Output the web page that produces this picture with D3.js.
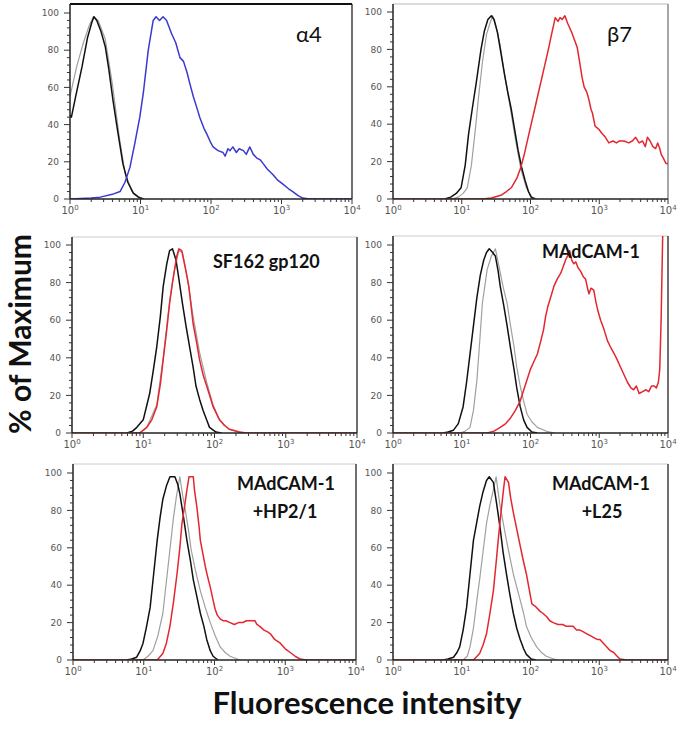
<!DOCTYPE html>
<html>
<head>
<meta charset="utf-8">
<script src="https://cdn.jsdelivr.net/npm/d3@7"></script>
<style>
  body { margin: 0; background: #fff; }
  svg { display: block; }
  .tick-label { font-family: "DejaVu Sans", sans-serif; font-size: 9px; fill: #555; }
  .title { font-family: Lato, "Open Sans", sans-serif; font-weight: bold; fill: #111; }
</style>
</head>
<body>
<div id="chart"></div>
<script>
// histogram traces: [log10 fluorescence, % of max]
var a4Grey = [[0, 55], [0.04, 62], [0.1, 72], [0.19, 84], [0.27, 93], [0.33, 98], [0.4, 96], [0.5, 86], [0.6, 62], [0.7, 33], [0.78, 14], [0.88, 4], [0.98, 1], [1.05, 0]];
var a4Black = [[0, 45], [0.02, 44], [0.08, 55], [0.17, 71], [0.25, 87], [0.31, 95], [0.34, 98], [0.38, 96], [0.44, 90], [0.5, 82], [0.55, 70], [0.61, 53], [0.67, 38], [0.75, 19], [0.82, 9], [0.9, 3], [0.97, 1], [1.04, 0]];
var a4Blue = [[0, 0], [0.3, 0.5], [0.43, 1], [0.6, 2.5], [0.71, 4], [0.78, 9], [0.85, 17], [0.92, 30], [0.99, 44], [1.04, 57], [1.11, 80], [1.18, 96], [1.22, 98], [1.27, 96], [1.32, 98], [1.37, 96], [1.44, 89], [1.5, 84], [1.56, 76], [1.61, 74], [1.66, 68], [1.7, 62], [1.75, 55], [1.8, 49], [1.84, 44], [1.9, 38], [1.94, 35], [2.0, 30], [2.03, 28], [2.1, 26], [2.17, 25], [2.2, 23], [2.24, 27], [2.27, 26], [2.31, 28], [2.36, 25], [2.4, 27], [2.46, 26], [2.5, 24], [2.55, 28], [2.6, 24], [2.65, 22], [2.7, 21], [2.74, 19], [2.8, 16], [2.88, 13], [2.95, 10], [3.02, 8], [3.1, 5.5], [3.16, 4], [3.23, 2], [3.3, 0.5], [3.4, 0], [4, 0]];

var b7Grey = [[0.85, 0], [0.95, 1], [1.02, 3], [1.08, 6], [1.14, 18], [1.2, 38], [1.24, 53], [1.3, 73], [1.36, 88], [1.41, 94], [1.45, 98], [1.5, 92], [1.56, 82], [1.62, 67], [1.7, 50], [1.78, 32], [1.86, 16], [1.94, 6], [2.02, 1], [2.1, 0]];
var b7Black = [[0.75, 0], [0.84, 1], [0.92, 3], [0.99, 6], [1.05, 18], [1.1, 35], [1.16, 50], [1.21, 62], [1.28, 80], [1.33, 90], [1.38, 96], [1.43, 98], [1.47, 96], [1.52, 89], [1.57, 78], [1.62, 67], [1.67, 57], [1.72, 48], [1.77, 37], [1.82, 26], [1.87, 17], [1.92, 10], [1.97, 4], [2.01, 1], [2.06, 0]];
var b7Red = [[0, 0], [1.3, 0], [1.43, 0.5], [1.57, 2], [1.65, 4], [1.72, 6], [1.8, 11], [1.86, 17], [1.91, 24], [1.96, 32], [2.01, 40], [2.06, 48], [2.11, 56], [2.16, 64], [2.21, 72], [2.26, 80], [2.3, 87], [2.33, 92], [2.36, 97], [2.4, 95], [2.43, 97], [2.46, 96], [2.5, 98], [2.54, 94], [2.6, 89], [2.64, 85], [2.68, 81], [2.72, 72], [2.75, 65], [2.78, 60], [2.82, 57], [2.85, 53], [2.88, 48], [2.9, 46], [2.94, 39], [3.0, 37], [3.04, 35], [3.09, 33], [3.14, 30], [3.2, 31], [3.25, 30], [3.29, 31], [3.36, 31], [3.43, 30], [3.48, 31], [3.53, 33], [3.58, 30], [3.63, 31], [3.67, 28], [3.7, 33], [3.74, 31], [3.78, 28], [3.82, 27], [3.85, 30], [3.88, 27], [3.9, 24], [3.93, 22], [3.97, 19], [4, 19]];

var sfGrey = [[0.95, 0], [1.05, 3], [1.19, 15], [1.28, 40], [1.37, 70], [1.44, 87], [1.5, 97], [1.55, 96], [1.62, 82], [1.7, 62], [1.79, 43], [1.89, 27], [1.98, 15], [2.07, 7], [2.2, 2], [2.35, 0.5], [2.45, 0]];
var sfBlack = [[0.77, 0], [0.85, 1], [0.91, 3], [1.0, 7], [1.09, 21], [1.14, 33], [1.19, 46], [1.24, 62], [1.28, 78], [1.33, 90], [1.37, 97], [1.41, 98], [1.46, 92], [1.5, 82], [1.55, 69], [1.6, 57], [1.65, 46], [1.7, 35], [1.74, 25], [1.79, 18], [1.84, 12], [1.9, 6], [1.93, 3], [2.02, 0.5], [2.1, 0]];
var sfRed = [[0, 0], [0.95, 0], [1.05, 3], [1.12, 7], [1.19, 14], [1.24, 26], [1.28, 39], [1.33, 55], [1.37, 69], [1.41, 80], [1.44, 87], [1.47, 94], [1.5, 98], [1.54, 97], [1.59, 88], [1.64, 78], [1.7, 58], [1.75, 48], [1.79, 39], [1.84, 31], [1.89, 25], [1.94, 19], [1.98, 14], [2.07, 7], [2.14, 4], [2.21, 2], [2.35, 0.5], [2.45, 0], [4, 0]];

var madGrey = [[0.98, 0], [1.05, 1], [1.12, 3], [1.17, 12], [1.22, 28], [1.26, 48], [1.3, 69], [1.37, 87], [1.43, 94], [1.49, 98], [1.55, 87], [1.6, 78], [1.66, 69], [1.71, 57], [1.76, 46], [1.8, 35], [1.85, 25], [1.9, 17], [1.95, 10], [2.02, 6], [2.1, 3], [2.25, 0.7], [2.35, 0]];
var madBlack = [[0.73, 0], [0.8, 0.5], [0.88, 1.5], [0.95, 5], [1.02, 14], [1.07, 27], [1.12, 42], [1.17, 57], [1.22, 72], [1.27, 84], [1.32, 92], [1.36, 96], [1.4, 98], [1.45, 96], [1.49, 94], [1.53, 86], [1.56, 78], [1.61, 68], [1.66, 57], [1.71, 45], [1.76, 34], [1.8, 24], [1.85, 14], [1.9, 7], [1.95, 3], [2.02, 0.5], [2.1, 0]];
var madRed = [[0, 0], [1.37, 0], [1.47, 1], [1.56, 3], [1.64, 5], [1.71, 8], [1.78, 12], [1.85, 17], [1.92, 25], [2.0, 34], [2.05, 38], [2.1, 42], [2.15, 49], [2.19, 55], [2.22, 62], [2.25, 67], [2.3, 73], [2.34, 78], [2.39, 82], [2.44, 85], [2.48, 89], [2.51, 92], [2.55, 95], [2.57, 97], [2.6, 92], [2.63, 90], [2.66, 91], [2.69, 88], [2.73, 86], [2.77, 83], [2.8, 82], [2.83, 77], [2.85, 74], [2.88, 77], [2.92, 76], [2.95, 70], [2.98, 65], [3.02, 60], [3.07, 55], [3.12, 49], [3.16, 46], [3.22, 42], [3.26, 39], [3.31, 35], [3.36, 31], [3.41, 27], [3.46, 24], [3.5, 23], [3.54, 25], [3.58, 21], [3.63, 22], [3.68, 23], [3.72, 22], [3.76, 25], [3.8, 25], [3.83, 24], [3.86, 27], [3.88, 34], [3.9, 60], [3.92, 100], [3.93, 115]];

var hpGrey = [[0.99, 0], [1.06, 2], [1.13, 5], [1.2, 13], [1.27, 25], [1.32, 42], [1.37, 59], [1.42, 76], [1.46, 87], [1.51, 98], [1.55, 88], [1.58, 82], [1.63, 70], [1.67, 59], [1.73, 48], [1.8, 37], [1.87, 28], [1.94, 20], [2.01, 13], [2.08, 7], [2.15, 4], [2.22, 2], [2.36, 0]];
var hpBlack = [[0.76, 0], [0.83, 0.5], [0.9, 1.5], [0.95, 5], [0.99, 9], [1.04, 18], [1.09, 28], [1.14, 46], [1.19, 64], [1.23, 76], [1.27, 86], [1.32, 93], [1.37, 98], [1.44, 98], [1.48, 94], [1.51, 89], [1.56, 77], [1.61, 64], [1.66, 53], [1.7, 43], [1.75, 34], [1.8, 25], [1.85, 18], [1.89, 11], [1.94, 5], [1.98, 2], [2.05, 0]];
var hpRed = [[0, 0], [1.19, 0], [1.27, 3.5], [1.32, 9], [1.37, 18], [1.42, 31], [1.47, 46], [1.51, 60], [1.54, 73], [1.58, 83], [1.61, 91], [1.64, 98], [1.7, 98], [1.72, 90], [1.75, 82], [1.78, 72], [1.8, 64], [1.84, 56], [1.87, 50], [1.9, 45], [1.94, 39], [1.98, 32], [2.01, 27], [2.04, 24], [2.08, 22], [2.12, 21], [2.16, 21], [2.22, 20], [2.28, 19], [2.34, 20], [2.4, 20], [2.45, 21], [2.5, 21], [2.54, 21], [2.57, 21], [2.6, 19], [2.64, 18], [2.7, 16], [2.75, 15], [2.79, 14], [2.85, 11], [2.93, 9], [3.0, 6], [3.07, 4], [3.14, 2], [3.21, 0.5], [3.3, 0], [4, 0]];

var l25Grey = [[1.02, 0], [1.08, 2], [1.12, 7], [1.17, 17], [1.22, 32], [1.26, 43], [1.31, 58], [1.36, 73], [1.41, 83], [1.46, 91], [1.5, 98], [1.55, 84], [1.6, 74], [1.65, 64], [1.7, 55], [1.75, 46], [1.8, 39], [1.85, 32], [1.9, 25], [1.94, 18], [2.01, 12], [2.09, 7], [2.16, 4], [2.23, 2], [2.38, 0]];
var l25Black = [[0.73, 0], [0.8, 0.5], [0.88, 1.5], [0.93, 4], [0.97, 7], [1.02, 16], [1.07, 28], [1.12, 46], [1.17, 64], [1.22, 74], [1.26, 82], [1.31, 90], [1.36, 96], [1.4, 98], [1.46, 95], [1.51, 83], [1.56, 70], [1.6, 58], [1.65, 46], [1.7, 35], [1.75, 25], [1.8, 17], [1.85, 11], [1.9, 6], [1.94, 3], [2.01, 0.5], [2.08, 0]];
var l25Red = [[0, 0], [1.17, 0], [1.26, 3.5], [1.31, 8], [1.36, 14], [1.41, 25], [1.46, 37], [1.5, 52], [1.53, 64], [1.56, 75], [1.58, 82], [1.61, 92], [1.63, 98], [1.68, 95], [1.71, 87], [1.75, 79], [1.8, 70], [1.85, 61], [1.89, 54], [1.94, 46], [1.98, 38], [2.02, 30], [2.06, 29], [2.09, 28], [2.14, 26], [2.18, 25], [2.24, 23], [2.28, 21], [2.33, 20], [2.4, 19], [2.47, 19], [2.52, 18], [2.57, 18], [2.62, 18], [2.67, 16], [2.72, 16], [2.77, 15], [2.82, 14], [2.87, 13], [2.92, 12], [2.97, 11], [3.01, 11], [3.06, 9], [3.11, 7], [3.16, 5], [3.21, 4], [3.26, 2], [3.3, 0.5], [3.4, 0], [4, 0]];

var yTicks = [0, 20, 40, 60, 80, 100];
var xDecades = [0, 1, 2, 3, 4];

var grey = "#a0a0a0", black = "#111", red = "#e3262f", blue = "#3a3ad0";

var panels = [
    {box: [70, 352, 4, 13, 199], frame: "#111", frameW: 2,
     curves: [[a4Grey, grey], [a4Black, black], [a4Blue, blue]]},
    {box: [393, 668, 4, 12, 199], frame: "#bbb", frameW: 1,
     curves: [[b7Grey, grey], [b7Black, black], [b7Red, red]]},
    {box: [72, 357, 237, 245, 433], frame: "#ccc", frameW: 1,
     curves: [[sfGrey, grey], [sfBlack, black], [sfRed, red]]},
    {box: [393, 668, 236, 245, 433], frame: "#ccc", frameW: 1,
     curves: [[madGrey, grey], [madBlack, black], [madRed, red]]},
    {box: [73, 356, 464, 473, 660], frame: "#ccc", frameW: 1,
     curves: [[hpGrey, grey], [hpBlack, black], [hpRed, red]]},
    {box: [393, 668, 464, 473, 660], frame: "#ccc", frameW: 1,
     curves: [[l25Grey, grey], [l25Black, black], [l25Red, red]]}
];

var svg = d3.select("#chart").append("svg")
    .attr("width", 680)
    .attr("height", 729);

panels.forEach(function(p, i) {
    var left = p.box[0], right = p.box[1], top = p.box[2], y100 = p.box[3], y0 = p.box[4];
    var x = d3.scaleLog().domain([1, 1e4]).range([left, right]);
    var y = d3.scaleLinear().domain([0, 100]).range([y0, y100]);

    var g = svg.append("g");

    svg.append("clipPath").attr("id", "clip" + i)
        .append("rect")
        .attr("x", left).attr("y", top)
        .attr("width", right - left).attr("height", y0 - top);

    // frame: top and right
    g.append("line").attr("x1", left).attr("x2", right).attr("y1", top).attr("y2", top)
        .attr("stroke", p.frame).attr("stroke-width", p.frameW);
    g.append("line").attr("x1", right).attr("x2", right).attr("y1", top).attr("y2", y0)
        .attr("stroke", i == 1 ? "#777" : "#222").attr("stroke-width", 1.3);

    var line = d3.line()
        .x(d => x(Math.pow(10, d[0])))
        .y(d => y(d[1]));

    var plot = g.append("g").attr("clip-path", "url(#clip" + i + ")");
    p.curves.forEach(function(c) {
        plot.append("path")
            .datum(c[0])
            .attr("d", line)
            .attr("fill", "none")
            .attr("stroke", c[1])
            .attr("stroke-width", c[1] == grey ? 1.2 : 1.5)
            .attr("stroke-linejoin", "round");
    });

    // y axis
    var yAxis = g.append("g").attr("transform", `translate(${left},0)`);
    yAxis.append("line").attr("x1", 0).attr("x2", 0).attr("y1", top).attr("y2", y0)
        .attr("stroke", "#222").attr("stroke-width", 1.5);
    d3.range(0, 101, 4).forEach(function(v) {
        var major = v % 20 == 0;
        yAxis.append("line")
            .attr("x1", major ? -6 : -3).attr("x2", 0)
            .attr("y1", y(v)).attr("y2", y(v))
            .attr("stroke", "#333").attr("stroke-width", 1);
    });
    yAxis.selectAll("text.tick-label")
        .data(yTicks)
        .enter()
        .append("text")
        .attr("class", "tick-label")
        .attr("x", -11)
        .attr("y", d => y(d))
        .attr("dy", "0.35em")
        .attr("text-anchor", "end")
        .text(d => d);

    // x axis
    var xAxis = g.append("g").attr("transform", `translate(0,${y0})`);
    xAxis.append("line").attr("x1", left).attr("x2", right).attr("y1", 0).attr("y2", 0)
        .attr("stroke", "#222").attr("stroke-width", 1.5);
    xDecades.forEach(function(e) {
        xAxis.append("line")
            .attr("x1", x(Math.pow(10, e))).attr("x2", x(Math.pow(10, e)))
            .attr("y1", 0).attr("y2", 5)
            .attr("stroke", "#333");
        if (e < 4) {
            for (var m = 2; m < 10; m++) {
                var xv = x(m * Math.pow(10, e));
                xAxis.append("line")
                    .attr("x1", xv).attr("x2", xv)
                    .attr("y1", 0).attr("y2", 3)
                    .attr("stroke", "#333");
            }
        }
        var lbl = xAxis.append("text")
            .attr("class", "tick-label")
            .attr("x", x(Math.pow(10, e)))
            .attr("y", 15)
            .attr("text-anchor", "middle")
            .style("font-size", "10px");
        lbl.append("tspan").text("10");
        lbl.append("tspan").attr("dy", -4).style("font-size", "7px").text(e);
    });
});

// panel labels
function label(txt, xp, yp, size, bold, anchor) {
    svg.append("text")
        .attr("class", "title")
        .attr("x", xp).attr("y", yp)
        .attr("text-anchor", anchor || "start")
        .style("font-size", size + "px")
        .style("font-weight", bold ? "bold" : "normal")
        .text(txt);
}
label("α4", 296, 42, 22, false);
label("β7", 607, 42, 22, false);
label("SF162 gp120", 213, 268, 18, true);
label("MAdCAM-1", 542, 258, 18, true);
label("MAdCAM-1", 286, 490, 18, true, "middle");
label("+HP2/1", 285, 518, 18, true, "middle");
label("MAdCAM-1", 601, 490, 18, true, "middle");
label("+L25", 602, 518, 18, true, "middle");

// axis titles
svg.append("text")
    .attr("class", "title")
    .attr("transform", "translate(31,334) rotate(-90)")
    .attr("text-anchor", "middle")
    .style("font-size", "30px")
    .text("% of Maximum");

svg.append("text")
    .attr("class", "title")
    .attr("x", 367).attr("y", 714)
    .attr("text-anchor", "middle")
    .style("font-size", "31px")
    .text("Fluorescence intensity");
</script>
</body>
</html>
